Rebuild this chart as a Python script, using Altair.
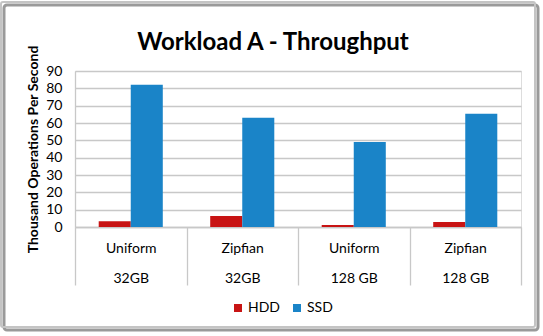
import altair as alt
import pandas as pd

categories = ["Uniform|32GB", "Zipfian|32GB", "Uniform|128 GB", "Zipfian|128 GB"]
series = ["HDD", "SSD"]
hdd = [3.3, 6.4, 1.2, 2.9]
ssd = [82.0, 63.0, 49.0, 65.3]
y_ticks = list(range(0, 91, 10))
colors = ["#c81414", "#1a84c8"]

rows = []
for c, h, s in zip(categories, hdd, ssd):
    rows.append({"cat": c, "series": "HDD", "value": h})
    rows.append({"cat": c, "series": "SSD", "value": s})
df = pd.DataFrame(rows)

FONT = "Lato"

bars = alt.Chart(df).mark_bar().encode(
    x=alt.X(
        "cat:N",
        sort=categories,
        scale=alt.Scale(paddingInner=0, paddingOuter=0),
        axis=alt.Axis(
            title=None,
            labelExpr="split(datum.label, '|')",
            labelAngle=0,
            labelLineHeight=30,
            labelBaseline="top",
            tickBand="extent",
            tickSize=58,
            tickColor="#c8c8c8",
            tickWidth=1.3,
            domainColor="#c8c8c8",
            domainWidth=1.3,
            labelPadding=-44,
            labelFont=FONT,
            labelFontSize=14,
            labelColor="#000000",
        ),
    ),
    xOffset=alt.XOffset(
        "series:N", sort=series, scale=alt.Scale(paddingInner=0, paddingOuter=0.74)
    ),
    y=alt.Y(
        "value:Q",
        scale=alt.Scale(domain=[0, 90], nice=False),
        axis=alt.Axis(
            title="Thousand Operations Per Second",
            values=y_ticks,
            ticks=False,
            tickSize=0,
            labelPadding=13,
            labelFont=FONT,
            labelFontSize=14,
            labelColor="#000000",
            titleFont=FONT,
            titleFontSize=14,
            titleFontWeight="bold",
            titleColor="#000000",
            titlePadding=5,
            gridColor="#c8c8c8",
            gridWidth=1.3,
            domainColor="#c8c8c8",
            domainWidth=1.3,
        ),
    ),
    color=alt.Color(
        "series:N",
        sort=series,
        scale=alt.Scale(domain=series, range=colors),
        legend=alt.Legend(
            title=None,
            orient="none",
            legendX=156,
            legendY=230,
            direction="horizontal",
            symbolType="square",
            symbolSize=64,
            symbolStrokeWidth=0,
            labelFont=FONT,
            labelFontSize=14,
            labelColor="#000000",
            columnPadding=10,
            padding=0,
            labelOffset=3,
        ),
    ),
)

frame_data = alt.Data(values=[{"k": 1}])
shadow = alt.Chart(frame_data).mark_rect(
    fill=None, stroke="#9a9a9a", strokeWidth=3, cornerRadius=3
).encode(
    x=alt.value(-71), x2=alt.value(463), y=alt.value(-66), y2=alt.value(259)
)
frame = alt.Chart(frame_data).mark_rect(
    fill=None, stroke="#c4c4c4", strokeWidth=2, cornerRadius=2
).encode(
    x=alt.value(-74), x2=alt.value(460), y=alt.value(-69), y2=alt.value(256)
)

chart = alt.layer(shadow, frame, bars).properties(
    width=446,
    height=156,
    autosize=alt.AutoSizeParams(type="none"),
    padding={"left": 75, "top": 71, "right": 22, "bottom": 109},
    title=alt.TitleParams(
        "Workload A - Throughput",
        anchor="middle",
        font=FONT,
        fontSize=24,
        fontWeight="bold",
        color="#000000",
        dx=-25,
        offset=0,
        dy=54,
    ),
).configure_view(stroke=None).configure(background="white")

chart.save("out.html", embed_options={"renderer": "svg", "actions": False})
